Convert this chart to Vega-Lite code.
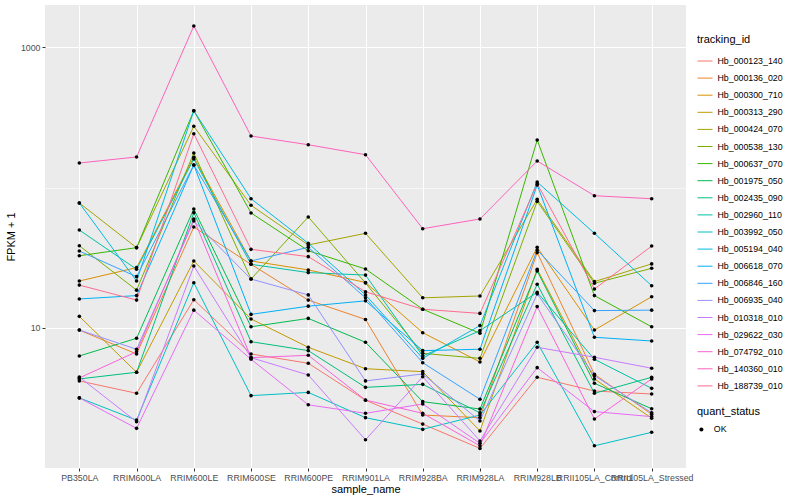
{
"$schema":"https://vega.github.io/schema/vega-lite/v6.json",
"width":641,"height":463,
"autosize":{"type":"none"},
"padding":{"left":45,"top":5,"right":114,"bottom":32},
"background":"white",
"config":{"font":"Liberation Sans","view":{"fill":"#EBEBEB","stroke":null},
"axis":{"domain":false,"gridColor":"white","tickColor":"#333333","tickSize":3,"labelColor":"#4D4D4D","labelFontSize":8.8,"titleFontSize":11,"titleFontWeight":"normal","titleColor":"black","labelPadding":2}},
"data":{"values":[
{"gene":"Hb_000123_140","sample":"PB350LA","fpkm":4.20,"status":"OK"},{"gene":"Hb_000123_140","sample":"RRIM600LA","fpkm":3.43,"status":"OK"},{"gene":"Hb_000123_140","sample":"RRIM600LE","fpkm":15.9,"status":"OK"},{"gene":"Hb_000123_140","sample":"RRIM600SE","fpkm":6.53,"status":"OK"},{"gene":"Hb_000123_140","sample":"RRIM600PE","fpkm":5.61,"status":"OK"},{"gene":"Hb_000123_140","sample":"RRIM901LA","fpkm":3.06,"status":"OK"},{"gene":"Hb_000123_140","sample":"RRIM928BA","fpkm":2.07,"status":"OK"},{"gene":"Hb_000123_140","sample":"RRIM928LA","fpkm":1.39,"status":"OK"},{"gene":"Hb_000123_140","sample":"RRIM928LB","fpkm":4.46,"status":"OK"},{"gene":"Hb_000123_140","sample":"RRII105LA_Control","fpkm":3.56,"status":"OK"},{"gene":"Hb_000123_140","sample":"RRII105LA_Stressed","fpkm":3.39,"status":"OK"},
{"gene":"Hb_000136_020","sample":"PB350LA","fpkm":9.67,"status":"OK"},{"gene":"Hb_000136_020","sample":"RRIM600LA","fpkm":6.53,"status":"OK"},{"gene":"Hb_000136_020","sample":"RRIM600LE","fpkm":52.3,"status":"OK"},{"gene":"Hb_000136_020","sample":"RRIM600SE","fpkm":28.4,"status":"OK"},{"gene":"Hb_000136_020","sample":"RRIM600PE","fpkm":15.8,"status":"OK"},{"gene":"Hb_000136_020","sample":"RRIM901LA","fpkm":11.5,"status":"OK"},{"gene":"Hb_000136_020","sample":"RRIM928BA","fpkm":2.40,"status":"OK"},{"gene":"Hb_000136_020","sample":"RRIM928LA","fpkm":2.30,"status":"OK"},{"gene":"Hb_000136_020","sample":"RRIM928LB","fpkm":34.4,"status":"OK"},{"gene":"Hb_000136_020","sample":"RRII105LA_Control","fpkm":4.68,"status":"OK"},{"gene":"Hb_000136_020","sample":"RRII105LA_Stressed","fpkm":2.43,"status":"OK"},
{"gene":"Hb_000300_710","sample":"PB350LA","fpkm":21.6,"status":"OK"},{"gene":"Hb_000300_710","sample":"RRIM600LA","fpkm":26.9,"status":"OK"},{"gene":"Hb_000300_710","sample":"RRIM600LE","fpkm":164.1,"status":"OK"},{"gene":"Hb_000300_710","sample":"RRIM600SE","fpkm":30.0,"status":"OK"},{"gene":"Hb_000300_710","sample":"RRIM600PE","fpkm":25.9,"status":"OK"},{"gene":"Hb_000300_710","sample":"RRIM901LA","fpkm":21.1,"status":"OK"},{"gene":"Hb_000300_710","sample":"RRIM928BA","fpkm":9.26,"status":"OK"},{"gene":"Hb_000300_710","sample":"RRIM928LA","fpkm":5.73,"status":"OK"},{"gene":"Hb_000300_710","sample":"RRIM928LB","fpkm":37.5,"status":"OK"},{"gene":"Hb_000300_710","sample":"RRII105LA_Control","fpkm":9.67,"status":"OK"},{"gene":"Hb_000300_710","sample":"RRII105LA_Stressed","fpkm":16.7,"status":"OK"},
{"gene":"Hb_000313_290","sample":"PB350LA","fpkm":12.1,"status":"OK"},{"gene":"Hb_000313_290","sample":"RRIM600LA","fpkm":4.84,"status":"OK"},{"gene":"Hb_000313_290","sample":"RRIM600LE","fpkm":30.0,"status":"OK"},{"gene":"Hb_000313_290","sample":"RRIM600SE","fpkm":11.6,"status":"OK"},{"gene":"Hb_000313_290","sample":"RRIM600PE","fpkm":7.29,"status":"OK"},{"gene":"Hb_000313_290","sample":"RRIM901LA","fpkm":5.13,"status":"OK"},{"gene":"Hb_000313_290","sample":"RRIM928BA","fpkm":4.89,"status":"OK"},{"gene":"Hb_000313_290","sample":"RRIM928LA","fpkm":1.85,"status":"OK"},{"gene":"Hb_000313_290","sample":"RRIM928LB","fpkm":26.2,"status":"OK"},{"gene":"Hb_000313_290","sample":"RRII105LA_Control","fpkm":4.34,"status":"OK"},{"gene":"Hb_000313_290","sample":"RRII105LA_Stressed","fpkm":2.28,"status":"OK"},
{"gene":"Hb_000424_070","sample":"PB350LA","fpkm":77.6,"status":"OK"},{"gene":"Hb_000424_070","sample":"RRIM600LA","fpkm":37.3,"status":"OK"},{"gene":"Hb_000424_070","sample":"RRIM600LE","fpkm":272.6,"status":"OK"},{"gene":"Hb_000424_070","sample":"RRIM600SE","fpkm":74.7,"status":"OK"},{"gene":"Hb_000424_070","sample":"RRIM600PE","fpkm":39.0,"status":"OK"},{"gene":"Hb_000424_070","sample":"RRIM901LA","fpkm":47.2,"status":"OK"},{"gene":"Hb_000424_070","sample":"RRIM928BA","fpkm":16.4,"status":"OK"},{"gene":"Hb_000424_070","sample":"RRIM928LA","fpkm":16.9,"status":"OK"},{"gene":"Hb_000424_070","sample":"RRIM928LB","fpkm":82.4,"status":"OK"},{"gene":"Hb_000424_070","sample":"RRII105LA_Control","fpkm":21.4,"status":"OK"},{"gene":"Hb_000424_070","sample":"RRII105LA_Stressed","fpkm":28.6,"status":"OK"},
{"gene":"Hb_000538_130","sample":"PB350LA","fpkm":38.5,"status":"OK"},{"gene":"Hb_000538_130","sample":"RRIM600LA","fpkm":18.6,"status":"OK"},{"gene":"Hb_000538_130","sample":"RRIM600LE","fpkm":176.0,"status":"OK"},{"gene":"Hb_000538_130","sample":"RRIM600SE","fpkm":22.3,"status":"OK"},{"gene":"Hb_000538_130","sample":"RRIM600PE","fpkm":61.7,"status":"OK"},{"gene":"Hb_000538_130","sample":"RRIM901LA","fpkm":20.9,"status":"OK"},{"gene":"Hb_000538_130","sample":"RRIM928BA","fpkm":6.60,"status":"OK"},{"gene":"Hb_000538_130","sample":"RRIM928LA","fpkm":6.08,"status":"OK"},{"gene":"Hb_000538_130","sample":"RRIM928LB","fpkm":79.7,"status":"OK"},{"gene":"Hb_000538_130","sample":"RRII105LA_Control","fpkm":20.8,"status":"OK"},{"gene":"Hb_000538_130","sample":"RRII105LA_Stressed","fpkm":26.6,"status":"OK"},
{"gene":"Hb_000637_070","sample":"PB350LA","fpkm":32.7,"status":"OK"},{"gene":"Hb_000637_070","sample":"RRIM600LA","fpkm":37.3,"status":"OK"},{"gene":"Hb_000637_070","sample":"RRIM600LE","fpkm":352,"status":"OK"},{"gene":"Hb_000637_070","sample":"RRIM600SE","fpkm":65.9,"status":"OK"},{"gene":"Hb_000637_070","sample":"RRIM600PE","fpkm":35.5,"status":"OK"},{"gene":"Hb_000637_070","sample":"RRIM901LA","fpkm":26.3,"status":"OK"},{"gene":"Hb_000637_070","sample":"RRIM928BA","fpkm":13.6,"status":"OK"},{"gene":"Hb_000637_070","sample":"RRIM928LA","fpkm":9.17,"status":"OK"},{"gene":"Hb_000637_070","sample":"RRIM928LB","fpkm":217.8,"status":"OK"},{"gene":"Hb_000637_070","sample":"RRII105LA_Control","fpkm":17.0,"status":"OK"},{"gene":"Hb_000637_070","sample":"RRII105LA_Stressed","fpkm":10.2,"status":"OK"},
{"gene":"Hb_001975_050","sample":"PB350LA","fpkm":6.32,"status":"OK"},{"gene":"Hb_001975_050","sample":"RRIM600LA","fpkm":8.45,"status":"OK"},{"gene":"Hb_001975_050","sample":"RRIM600LE","fpkm":70.3,"status":"OK"},{"gene":"Hb_001975_050","sample":"RRIM600SE","fpkm":10.2,"status":"OK"},{"gene":"Hb_001975_050","sample":"RRIM600PE","fpkm":11.7,"status":"OK"},{"gene":"Hb_001975_050","sample":"RRIM901LA","fpkm":7.91,"status":"OK"},{"gene":"Hb_001975_050","sample":"RRIM928BA","fpkm":2.99,"status":"OK"},{"gene":"Hb_001975_050","sample":"RRIM928LA","fpkm":2.65,"status":"OK"},{"gene":"Hb_001975_050","sample":"RRIM928LB","fpkm":25.5,"status":"OK"},{"gene":"Hb_001975_050","sample":"RRII105LA_Control","fpkm":4.04,"status":"OK"},{"gene":"Hb_001975_050","sample":"RRII105LA_Stressed","fpkm":2.66,"status":"OK"},
{"gene":"Hb_002435_090","sample":"PB350LA","fpkm":4.34,"status":"OK"},{"gene":"Hb_002435_090","sample":"RRIM600LA","fpkm":4.84,"status":"OK"},{"gene":"Hb_002435_090","sample":"RRIM600LE","fpkm":66.2,"status":"OK"},{"gene":"Hb_002435_090","sample":"RRIM600SE","fpkm":7.99,"status":"OK"},{"gene":"Hb_002435_090","sample":"RRIM600PE","fpkm":6.90,"status":"OK"},{"gene":"Hb_002435_090","sample":"RRIM901LA","fpkm":3.78,"status":"OK"},{"gene":"Hb_002435_090","sample":"RRIM928BA","fpkm":3.97,"status":"OK"},{"gene":"Hb_002435_090","sample":"RRIM928LA","fpkm":2.49,"status":"OK"},{"gene":"Hb_002435_090","sample":"RRIM928LB","fpkm":20.5,"status":"OK"},{"gene":"Hb_002435_090","sample":"RRII105LA_Control","fpkm":3.43,"status":"OK"},{"gene":"Hb_002435_090","sample":"RRII105LA_Stressed","fpkm":4.46,"status":"OK"},
{"gene":"Hb_002960_110","sample":"PB350LA","fpkm":49.8,"status":"OK"},{"gene":"Hb_002960_110","sample":"RRIM600LA","fpkm":26.2,"status":"OK"},{"gene":"Hb_002960_110","sample":"RRIM600LE","fpkm":159.5,"status":"OK"},{"gene":"Hb_002960_110","sample":"RRIM600SE","fpkm":28.4,"status":"OK"},{"gene":"Hb_002960_110","sample":"RRIM600PE","fpkm":24.8,"status":"OK"},{"gene":"Hb_002960_110","sample":"RRIM901LA","fpkm":23.8,"status":"OK"},{"gene":"Hb_002960_110","sample":"RRIM928BA","fpkm":6.32,"status":"OK"},{"gene":"Hb_002960_110","sample":"RRIM928LA","fpkm":9.57,"status":"OK"},{"gene":"Hb_002960_110","sample":"RRIM928LB","fpkm":17.95,"status":"OK"},{"gene":"Hb_002960_110","sample":"RRII105LA_Control","fpkm":5.99,"status":"OK"},{"gene":"Hb_002960_110","sample":"RRII105LA_Stressed","fpkm":3.72,"status":"OK"},
{"gene":"Hb_003992_050","sample":"PB350LA","fpkm":3.18,"status":"OK"},{"gene":"Hb_003992_050","sample":"RRIM600LA","fpkm":2.21,"status":"OK"},{"gene":"Hb_003992_050","sample":"RRIM600LE","fpkm":21.0,"status":"OK"},{"gene":"Hb_003992_050","sample":"RRIM600SE","fpkm":3.30,"status":"OK"},{"gene":"Hb_003992_050","sample":"RRIM600PE","fpkm":3.48,"status":"OK"},{"gene":"Hb_003992_050","sample":"RRIM901LA","fpkm":2.30,"status":"OK"},{"gene":"Hb_003992_050","sample":"RRIM928BA","fpkm":1.90,"status":"OK"},{"gene":"Hb_003992_050","sample":"RRIM928LA","fpkm":2.40,"status":"OK"},{"gene":"Hb_003992_050","sample":"RRIM928LB","fpkm":7.91,"status":"OK"},{"gene":"Hb_003992_050","sample":"RRII105LA_Control","fpkm":1.45,"status":"OK"},{"gene":"Hb_003992_050","sample":"RRII105LA_Stressed","fpkm":1.81,"status":"OK"},
{"gene":"Hb_005194_040","sample":"PB350LA","fpkm":77.6,"status":"OK"},{"gene":"Hb_005194_040","sample":"RRIM600LA","fpkm":21.6,"status":"OK"},{"gene":"Hb_005194_040","sample":"RRIM600LE","fpkm":352,"status":"OK"},{"gene":"Hb_005194_040","sample":"RRIM600SE","fpkm":83.2,"status":"OK"},{"gene":"Hb_005194_040","sample":"RRIM600PE","fpkm":40.1,"status":"OK"},{"gene":"Hb_005194_040","sample":"RRIM901LA","fpkm":17.2,"status":"OK"},{"gene":"Hb_005194_040","sample":"RRIM928BA","fpkm":6.08,"status":"OK"},{"gene":"Hb_005194_040","sample":"RRIM928LA","fpkm":10.4,"status":"OK"},{"gene":"Hb_005194_040","sample":"RRIM928LB","fpkm":109.4,"status":"OK"},{"gene":"Hb_005194_040","sample":"RRII105LA_Control","fpkm":47.2,"status":"OK"},{"gene":"Hb_005194_040","sample":"RRII105LA_Stressed","fpkm":20.0,"status":"OK"},
{"gene":"Hb_006618_070","sample":"PB350LA","fpkm":16.1,"status":"OK"},{"gene":"Hb_006618_070","sample":"RRIM600LA","fpkm":17.0,"status":"OK"},{"gene":"Hb_006618_070","sample":"RRIM600LE","fpkm":144.6,"status":"OK"},{"gene":"Hb_006618_070","sample":"RRIM600SE","fpkm":12.5,"status":"OK"},{"gene":"Hb_006618_070","sample":"RRIM600PE","fpkm":14.3,"status":"OK"},{"gene":"Hb_006618_070","sample":"RRIM901LA","fpkm":15.6,"status":"OK"},{"gene":"Hb_006618_070","sample":"RRIM928BA","fpkm":6.90,"status":"OK"},{"gene":"Hb_006618_070","sample":"RRIM928LA","fpkm":7.06,"status":"OK"},{"gene":"Hb_006618_070","sample":"RRIM928LB","fpkm":104.2,"status":"OK"},{"gene":"Hb_006618_070","sample":"RRII105LA_Control","fpkm":8.59,"status":"OK"},{"gene":"Hb_006618_070","sample":"RRII105LA_Stressed","fpkm":8.08,"status":"OK"},
{"gene":"Hb_006846_160","sample":"PB350LA","fpkm":35.3,"status":"OK"},{"gene":"Hb_006846_160","sample":"RRIM600LA","fpkm":23.2,"status":"OK"},{"gene":"Hb_006846_160","sample":"RRIM600LE","fpkm":144.6,"status":"OK"},{"gene":"Hb_006846_160","sample":"RRIM600SE","fpkm":30.0,"status":"OK"},{"gene":"Hb_006846_160","sample":"RRIM600PE","fpkm":37.5,"status":"OK"},{"gene":"Hb_006846_160","sample":"RRIM901LA","fpkm":16.4,"status":"OK"},{"gene":"Hb_006846_160","sample":"RRIM928BA","fpkm":5.66,"status":"OK"},{"gene":"Hb_006846_160","sample":"RRIM928LA","fpkm":3.11,"status":"OK"},{"gene":"Hb_006846_160","sample":"RRIM928LB","fpkm":35.9,"status":"OK"},{"gene":"Hb_006846_160","sample":"RRII105LA_Control","fpkm":13.3,"status":"OK"},{"gene":"Hb_006846_160","sample":"RRII105LA_Stressed","fpkm":13.4,"status":"OK"},
{"gene":"Hb_006935_040","sample":"PB350LA","fpkm":9.67,"status":"OK"},{"gene":"Hb_006935_040","sample":"RRIM600LA","fpkm":7.06,"status":"OK"},{"gene":"Hb_006935_040","sample":"RRIM600LE","fpkm":57.7,"status":"OK"},{"gene":"Hb_006935_040","sample":"RRIM600SE","fpkm":22.3,"status":"OK"},{"gene":"Hb_006935_040","sample":"RRIM600PE","fpkm":17.2,"status":"OK"},{"gene":"Hb_006935_040","sample":"RRIM901LA","fpkm":4.20,"status":"OK"},{"gene":"Hb_006935_040","sample":"RRIM928BA","fpkm":4.71,"status":"OK"},{"gene":"Hb_006935_040","sample":"RRIM928LA","fpkm":2.18,"status":"OK"},{"gene":"Hb_006935_040","sample":"RRIM928LB","fpkm":17.5,"status":"OK"},{"gene":"Hb_006935_040","sample":"RRII105LA_Control","fpkm":4.58,"status":"OK"},{"gene":"Hb_006935_040","sample":"RRII105LA_Stressed","fpkm":2.49,"status":"OK"},
{"gene":"Hb_010318_010","sample":"PB350LA","fpkm":4.48,"status":"OK"},{"gene":"Hb_010318_010","sample":"RRIM600LA","fpkm":2.15,"status":"OK"},{"gene":"Hb_010318_010","sample":"RRIM600LE","fpkm":27.6,"status":"OK"},{"gene":"Hb_010318_010","sample":"RRIM600SE","fpkm":6.15,"status":"OK"},{"gene":"Hb_010318_010","sample":"RRIM600PE","fpkm":4.63,"status":"OK"},{"gene":"Hb_010318_010","sample":"RRIM901LA","fpkm":1.60,"status":"OK"},{"gene":"Hb_010318_010","sample":"RRIM928BA","fpkm":4.50,"status":"OK"},{"gene":"Hb_010318_010","sample":"RRIM928LA","fpkm":1.57,"status":"OK"},{"gene":"Hb_010318_010","sample":"RRIM928LB","fpkm":7.29,"status":"OK"},{"gene":"Hb_010318_010","sample":"RRII105LA_Control","fpkm":6.19,"status":"OK"},{"gene":"Hb_010318_010","sample":"RRII105LA_Stressed","fpkm":5.17,"status":"OK"},
{"gene":"Hb_029622_030","sample":"PB350LA","fpkm":3.18,"status":"OK"},{"gene":"Hb_029622_030","sample":"RRIM600LA","fpkm":1.93,"status":"OK"},{"gene":"Hb_029622_030","sample":"RRIM600LE","fpkm":13.4,"status":"OK"},{"gene":"Hb_029622_030","sample":"RRIM600SE","fpkm":5.99,"status":"OK"},{"gene":"Hb_029622_030","sample":"RRIM600PE","fpkm":2.84,"status":"OK"},{"gene":"Hb_029622_030","sample":"RRIM901LA","fpkm":2.47,"status":"OK"},{"gene":"Hb_029622_030","sample":"RRIM928BA","fpkm":2.88,"status":"OK"},{"gene":"Hb_029622_030","sample":"RRIM928LA","fpkm":1.51,"status":"OK"},{"gene":"Hb_029622_030","sample":"RRIM928LB","fpkm":5.22,"status":"OK"},{"gene":"Hb_029622_030","sample":"RRII105LA_Control","fpkm":2.54,"status":"OK"},{"gene":"Hb_029622_030","sample":"RRII105LA_Stressed","fpkm":2.34,"status":"OK"},
{"gene":"Hb_074792_010","sample":"PB350LA","fpkm":4.41,"status":"OK"},{"gene":"Hb_074792_010","sample":"RRIM600LA","fpkm":6.78,"status":"OK"},{"gene":"Hb_074792_010","sample":"RRIM600LE","fpkm":59.7,"status":"OK"},{"gene":"Hb_074792_010","sample":"RRIM600SE","fpkm":6.15,"status":"OK"},{"gene":"Hb_074792_010","sample":"RRIM600PE","fpkm":6.39,"status":"OK"},{"gene":"Hb_074792_010","sample":"RRIM901LA","fpkm":3.07,"status":"OK"},{"gene":"Hb_074792_010","sample":"RRIM928BA","fpkm":2.47,"status":"OK"},{"gene":"Hb_074792_010","sample":"RRIM928LA","fpkm":1.45,"status":"OK"},{"gene":"Hb_074792_010","sample":"RRIM928LB","fpkm":14.2,"status":"OK"},{"gene":"Hb_074792_010","sample":"RRII105LA_Control","fpkm":2.25,"status":"OK"},{"gene":"Hb_074792_010","sample":"RRII105LA_Stressed","fpkm":4.34,"status":"OK"},
{"gene":"Hb_140360_010","sample":"PB350LA","fpkm":149.4,"status":"OK"},{"gene":"Hb_140360_010","sample":"RRIM600LA","fpkm":164.9,"status":"OK"},{"gene":"Hb_140360_010","sample":"RRIM600LE","fpkm":1411,"status":"OK"},{"gene":"Hb_140360_010","sample":"RRIM600SE","fpkm":232.5,"status":"OK"},{"gene":"Hb_140360_010","sample":"RRIM600PE","fpkm":201.6,"status":"OK"},{"gene":"Hb_140360_010","sample":"RRIM901LA","fpkm":171.2,"status":"OK"},{"gene":"Hb_140360_010","sample":"RRIM928BA","fpkm":50.9,"status":"OK"},{"gene":"Hb_140360_010","sample":"RRIM928LA","fpkm":59.7,"status":"OK"},{"gene":"Hb_140360_010","sample":"RRIM928LB","fpkm":154.4,"status":"OK"},{"gene":"Hb_140360_010","sample":"RRII105LA_Control","fpkm":87.4,"status":"OK"},{"gene":"Hb_140360_010","sample":"RRII105LA_Stressed","fpkm":83.2,"status":"OK"},
{"gene":"Hb_188739_010","sample":"PB350LA","fpkm":20.2,"status":"OK"},{"gene":"Hb_188739_010","sample":"RRIM600LA","fpkm":15.8,"status":"OK"},{"gene":"Hb_188739_010","sample":"RRIM600LE","fpkm":241.5,"status":"OK"},{"gene":"Hb_188739_010","sample":"RRIM600SE","fpkm":36.3,"status":"OK"},{"gene":"Hb_188739_010","sample":"RRIM600PE","fpkm":32.2,"status":"OK"},{"gene":"Hb_188739_010","sample":"RRIM901LA","fpkm":18.1,"status":"OK"},{"gene":"Hb_188739_010","sample":"RRIM928BA","fpkm":13.6,"status":"OK"},{"gene":"Hb_188739_010","sample":"RRIM928LA","fpkm":12.7,"status":"OK"},{"gene":"Hb_188739_010","sample":"RRIM928LB","fpkm":106.4,"status":"OK"},{"gene":"Hb_188739_010","sample":"RRII105LA_Control","fpkm":18.95,"status":"OK"},{"gene":"Hb_188739_010","sample":"RRII105LA_Stressed","fpkm":38.3,"status":"OK"}
]},
"encoding":{
"x":{"field":"sample","type":"nominal","sort":["PB350LA","RRIM600LA","RRIM600LE","RRIM600SE","RRIM600PE","RRIM901LA","RRIM928BA","RRIM928LA","RRIM928LB","RRII105LA_Control","RRII105LA_Stressed"],"scale":{"type":"point","padding":0.6},"axis":{"title":"sample_name","labelAngle":0,"grid":true,"gridWidth":1.07,"titlePadding":2}},
"y":{"field":"fpkm","type":"quantitative","scale":{"type":"log","domain":[1.008,1991],"nice":false,"zero":false},"axis":{"title":"FPKM + 1","values":[10,100,1000],"labelExpr":"datum.value == 100 ? '' : format(datum.value, 'd')","tickOpacity":{"condition":{"test":"datum.value == 100","value":0},"value":1},"gridWidth":{"condition":{"test":"datum.value == 100","value":0.55},"value":1.07},"titlePadding":4}}
},
"layer":[
{"mark":{"type":"line","strokeWidth":1},
"encoding":{"color":{"field":"gene","type":"nominal","scale":{"domain":["Hb_000123_140","Hb_000136_020","Hb_000300_710","Hb_000313_290","Hb_000424_070","Hb_000538_130","Hb_000637_070","Hb_001975_050","Hb_002435_090","Hb_002960_110","Hb_003992_050","Hb_005194_040","Hb_006618_070","Hb_006846_160","Hb_006935_040","Hb_010318_010","Hb_029622_030","Hb_074792_010","Hb_140360_010","Hb_188739_010"],"range":["#F8766D","#EA8331","#D89000","#C09B00","#A3A500","#7CAE00","#39B600","#00BB4E","#00BF7D","#00C1A3","#00BFC4","#00BAE0","#00B0F6","#35A2FF","#9590FF","#C77CFF","#E76BF3","#FA62DB","#FF62BC","#FF6C90"]},
"legend":{"title":"tracking_id","orient":"none","legendX":652,"legendY":29,"padding":0,"symbolType":"stroke","symbolSize":225,"symbolStrokeWidth":1,"labelFontSize":8.8,"labelColor":"black","labelOffset":4.5,"titleFontSize":11,"titleFontWeight":"normal","titleColor":"black","titlePadding":8,"rowPadding":4.1}}}},
{"mark":{"type":"point","filled":true,"size":13,"color":"black","opacity":1},
"encoding":{"shape":{"field":"status","type":"nominal","scale":{"range":["circle"]},"legend":{"title":"quant_status","orient":"none","legendX":652,"legendY":401,"padding":0,"symbolSize":16,"symbolFillColor":"black","symbolStrokeColor":"black","labelFontSize":8.8,"labelColor":"black","labelOffset":8,"titleFontSize":11,"titleFontWeight":"normal","titleColor":"black","titlePadding":8}}}}
]
}
